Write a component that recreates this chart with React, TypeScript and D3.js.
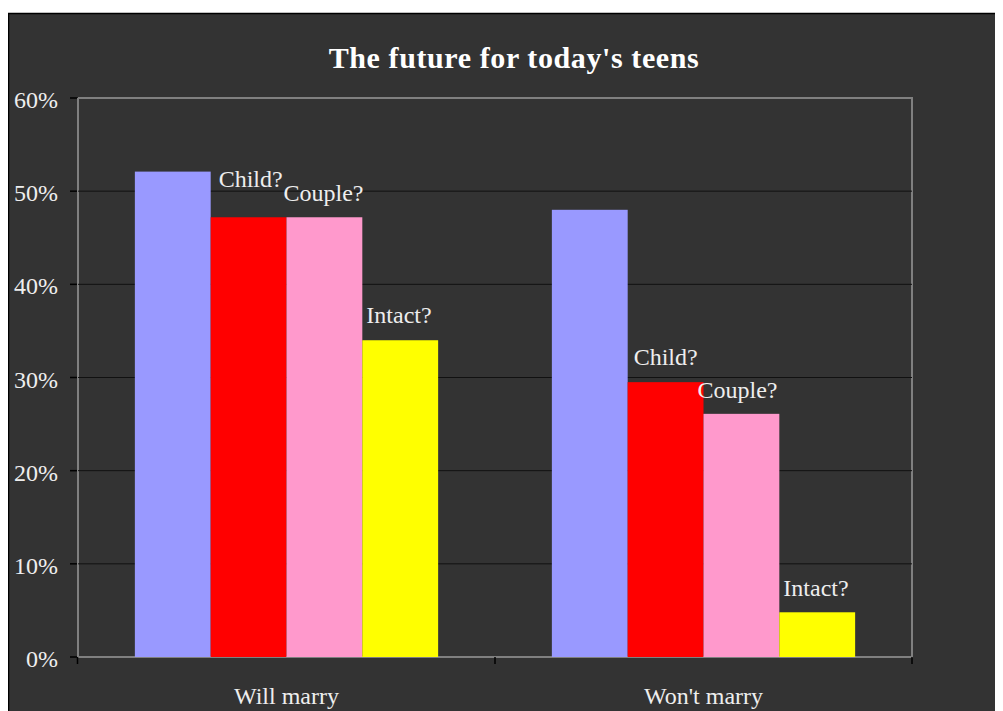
import React from "react";
import * as d3 from "d3";

const categories = ["Will marry", "Won't marry"];
const seriesNames = ["All", "Child?", "Couple?", "Intact?"];
const seriesColors = ["#9999ff", "#ff0000", "#ff99cc", "#ffff00"];
const willMarry = [52.1, 47.2, 47.2, 34.0];
const wontMarry = [48.0, 29.5, 26.1, 4.8];
const values = [willMarry, wontMarry];
const yTicks = [0, 10, 20, 30, 40, 50, 60];
// label offsets (dx, dy) relative to bar left/top, null for no label
const labelOffsets: (null | [number, number])[][] = [
  [null, [8, -30], [-3, -16], [4, -17]],
  [null, [6, -17], [-6, -16], [4, -16]],
];

const W = 995;
const H = 703;
const plot = { left: 70, top: 90, right: 904, bottom: 649 };
const FONT = "'Liberation Serif', 'DejaVu Serif', serif";
const TXT = "#eeeeee";

export default function App() {
  const x = d3
    .scaleBand<string>()
    .domain(categories)
    .range([plot.left, plot.right]);
  const inner = d3
    .scaleBand<string>()
    .domain(seriesNames)
    .range([0, x.bandwidth()])
    .paddingOuter(0.75)
    .paddingInner(0);
  const y = d3.scaleLinear().domain([0, 60]).range([plot.bottom, plot.top]);

  return (
    <svg width={W} height={H} style={{ display: "block" }} fontFamily={FONT}>
      <rect x={0.5} y={5.5} width={1000} height={800} fill="#333333" stroke="#000" strokeWidth={1.5} />
      <text x={(plot.left + plot.right) / 2 + 19} y={60} textAnchor="middle" fill="#fff" fontSize={30} fontWeight="bold" letterSpacing={0.6}>
        The future for today's teens
      </text>
      {/* plot border */}
      <rect x={plot.left} y={plot.top} width={plot.right - plot.left} height={plot.bottom - plot.top} fill="none" stroke="#808080" strokeWidth={2} />
      {yTicks.map((t) => (
        <g key={t}>
          {t > 0 && t < 60 && (
            <line x1={plot.left} x2={plot.right} y1={y(t)} y2={y(t)} stroke="#111" strokeWidth={1} />
          )}
          <line x1={plot.left - 8} x2={plot.left} y1={y(t)} y2={y(t)} stroke="#000" strokeWidth={1.5} />
          <text x={plot.left - 20} y={y(t) + 10} textAnchor="end" fill={TXT} fontSize={24}>
            {t}%
          </text>
        </g>
      ))}
      {values.map((vals, ci) =>
        vals.map((v, si) => {
          const bx = (x(categories[ci]) as number) + (inner(seriesNames[si]) as number);
          return (
            <rect key={`${ci}-${si}`} x={bx} y={y(v)} width={inner.bandwidth()} height={plot.bottom - y(v)} fill={seriesColors[si]} />
          );
        })
      )}
      {/* axes */}
      <line x1={plot.left - 0.5} x2={plot.left - 0.5} y1={plot.top} y2={plot.bottom} stroke="#808080" strokeWidth={1} />
      <line x1={plot.left} x2={plot.right} y1={plot.bottom + 0.5} y2={plot.bottom + 0.5} stroke="#808080" strokeWidth={1} />
      <line x1={plot.left - 0.5} x2={plot.left - 0.5} y1={plot.bottom} y2={plot.bottom + 7} stroke="#000" strokeWidth={1.5} />
      {categories.map((c) => (
        <line key={c} x1={(x(c) as number) + x.bandwidth()} x2={(x(c) as number) + x.bandwidth()} y1={plot.bottom} y2={plot.bottom + 7} stroke="#000" strokeWidth={1.5} />
      ))}
      {categories.map((c) => (
        <text key={c} x={(x(c) as number) + x.bandwidth() / 2} y={H - 7} textAnchor="middle" fill={TXT} fontSize={24}>
          {c}
        </text>
      ))}
      {values.map((vals, ci) =>
        vals.map((v, si) => {
          const off = labelOffsets[ci][si];
          if (!off) return null;
          const bx = (x(categories[ci]) as number) + (inner(seriesNames[si]) as number);
          return (
            <text key={`l${ci}-${si}`} x={bx + off[0]} y={y(v) + off[1]} fill={TXT} fontSize={24}>
              {seriesNames[si]}
            </text>
          );
        })
      )}
    </svg>
  );
}
